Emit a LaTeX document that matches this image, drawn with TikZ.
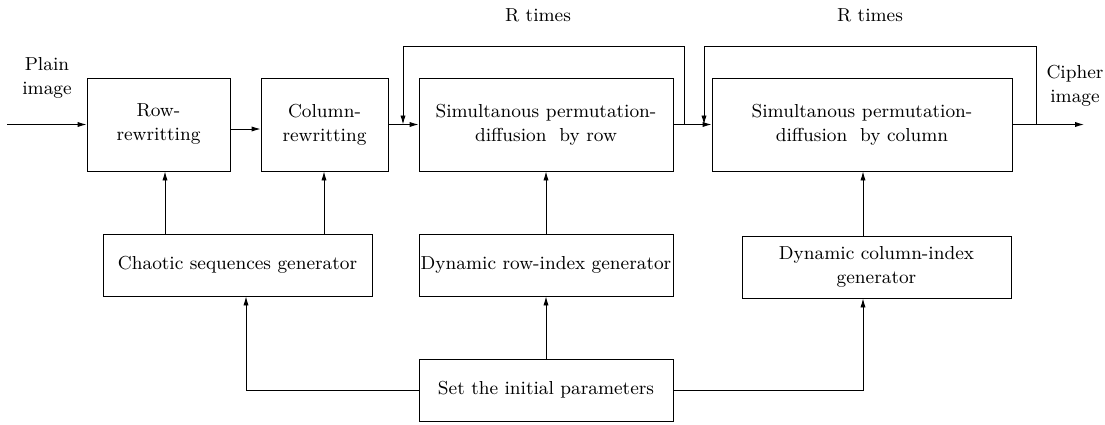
\documentclass[tikz,border=0pt]{standalone}
\usetikzlibrary{arrows.meta}
\begin{document}
\begin{tikzpicture}[x=0.5pt,y=-0.5pt,
  every node/.style={font=\fontsize{9.4}{12}\selectfont},
  blk/.style={draw,line width=0.45pt,align=center,inner sep=0pt},
  arr/.style={-{Latex[length=4.5pt,width=2.6pt]},line width=0.45pt}]
\useasboundingbox (0,0) rectangle (1105,424);
% boxes
\node[blk,minimum width=71.5pt,minimum height=46.5pt] (row) at (158.5,124.5) {Row-\\rewritting};
\node[blk,minimum width=63.5pt,minimum height=46.5pt] (col) at (324.5,124.5) {Column-\\rewritting};
\node[blk,minimum width=127pt,minimum height=46.5pt] (spdr) at (546,124.5) {Simultanous permutation-\\diffusion\ \ by row};
\node[blk,minimum width=150pt,minimum height=46.5pt] (spdc) at (862,124.5) {Simultanous permutation-\\diffusion\ \ by column};
\node[blk,minimum width=134.5pt,minimum height=31pt] (chaos) at (237.5,265) {Chaotic sequences generator};
\node[blk,minimum width=127pt,minimum height=31pt] (dynr) at (546,265) {Dynamic row-index generator};
\node[blk,minimum width=134.5pt,minimum height=31pt] (dync) at (876.5,267) {Dynamic column-index\\generator};
\node[blk,minimum width=127pt,minimum height=31pt] (set) at (546,390) {Set the initial parameters};
% labels
\node[align=center] (plain) at (47,78) {Plain\\image};
\node[align=center] (cipher) at (1075,86) {Cipher\\image};
\node (r1) at (538,15) {R times};
\node (r2) at (870,15) {R times};
% coordinates
\coordinate (in) at (7,124.5);
\coordinate (out) at (1084,124.5);
\coordinate (xa) at (165,0);
\coordinate (xb) at (324,0);
\coordinate (xc) at (246,0);
\coordinate (xd) at (863,0);
\coordinate (l1r) at (684,124.5);
\coordinate (l1l) at (403,124.5);
\coordinate (l2r) at (1036,124.5);
\coordinate (l2l) at (704,124.5);
\coordinate (top) at (0,46);
% main chain
\draw[arr] (in) -- (row.west);
\draw[arr] ([yshift=-2.25pt]row.east) -- ([yshift=-2.25pt]col.west);
\draw[arr] (col.east) -- (spdr.west);
\draw[arr] (spdr.east) -- (spdc.west);
\draw[arr] (spdc.east) -- (out);
% loops
\draw[arr] (l1r) -- (l1r |- top) -- (l1l |- top) -- (l1l);
\draw[arr] (l2r) -- (l2r |- top) -- (l2l |- top) -- (l2l);
% vertical feeds
\draw[arr] (chaos.north -| xa) -- (row.south -| xa);
\draw[arr] (chaos.north -| xb) -- (col.south -| xb);
\draw[arr] (dynr.north) -- (spdr.south);
\draw[arr] (dync.north -| xd) -- (spdc.south -| xd);
\draw[arr] (set.north) -- (dynr.south);
\draw[arr] (set.west) -| (chaos.south -| xc);
\draw[arr] (set.east) -| (dync.south -| xd);
\end{tikzpicture}
\end{document}
